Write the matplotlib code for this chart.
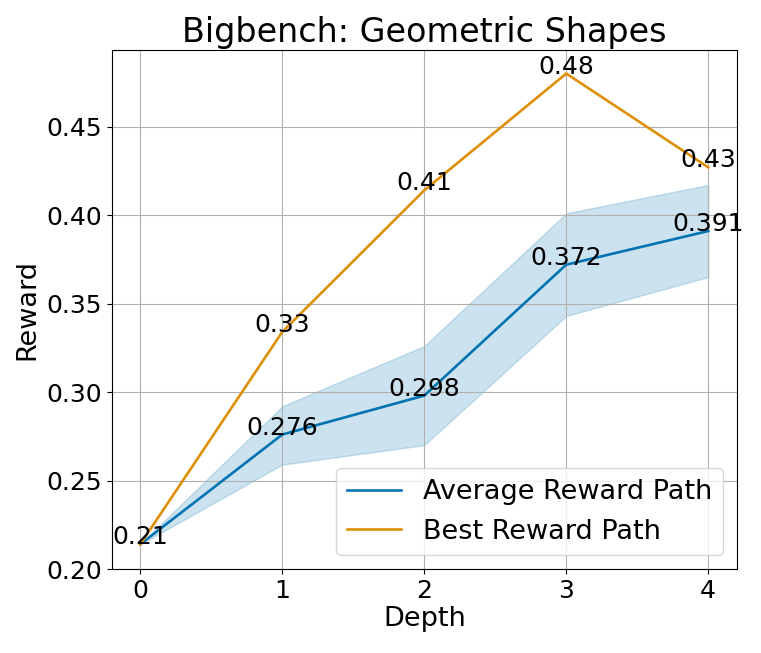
import matplotlib
matplotlib.use("Agg")
import matplotlib.pyplot as plt
import numpy as np

depth = [0, 1, 2, 3, 4]
avg_reward = [0.214, 0.276, 0.298, 0.372, 0.391]
avg_lower = [0.214, 0.259, 0.270, 0.343, 0.365]
avg_upper = [0.214, 0.292, 0.326, 0.401, 0.417]
best_reward = [0.214, 0.334, 0.414, 0.480, 0.427]
avg_labels = ["0.21", "0.276", "0.298", "0.372", "0.391"]
best_labels = ["0.21", "0.33", "0.41", "0.48", "0.43"]

blue = "#0173B2"
orange = "#DE8F05"

fig = plt.figure(figsize=(7.61, 6.53), dpi=100)
ax = fig.add_axes([0.147, 0.1286, 0.821, 0.7948])

ax.plot(depth, avg_reward, color=blue, lw=1.9, label="Average Reward Path")
ax.fill_between(depth, avg_lower, avg_upper, color=blue, alpha=0.2)
ax.plot(depth, best_reward, color=orange, lw=1.9, label="Best Reward Path")

for x, y, t in zip(depth, avg_reward, avg_labels):
    ax.text(x, y, t, ha="center", va="baseline", fontsize=18)
for x, y, t in zip(depth[1:], best_reward[1:], best_labels[1:]):
    ax.text(x, y, t, ha="center", va="baseline", fontsize=18)

ax.set_xticks(depth)
ax.set_yticks([0.20, 0.25, 0.30, 0.35, 0.40, 0.45])
ax.tick_params(labelsize=18)
ax.grid(True)
ax.set_xlabel("Depth", fontsize=19.5, labelpad=2)
ax.set_ylabel("Reward", fontsize=19.5)
ax.set_title("Bigbench: Geometric Shapes", fontsize=24)
ax.legend(loc="lower right", fontsize=19.5)

fig.savefig("out.png", dpi=100)
